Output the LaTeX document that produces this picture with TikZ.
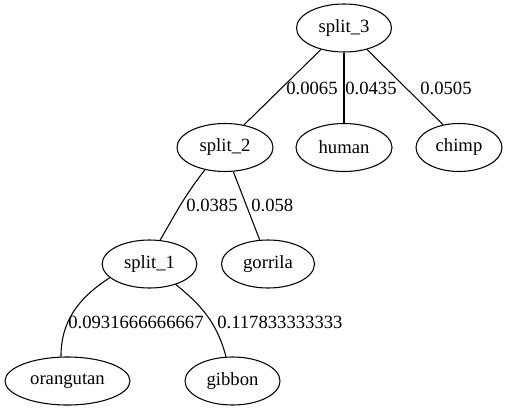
\documentclass[tikz,border=0pt]{standalone}
\usepackage{fontspec}
\setmainfont{Liberation Serif}
\usetikzlibrary{shapes.geometric}

\begin{document}
\begin{tikzpicture}[x=0.75pt,y=0.75pt,
    every node/.style={font=\fontsize{14}{16}\selectfont},
    taxon/.style={ellipse,draw,line width=0.8pt,inner sep=0pt,minimum height=36pt,minimum width=#1},
    weight/.style={anchor=west,inner sep=0pt},
    branch/.style={line width=0.8pt}]
        \useasboundingbox (0,0) rectangle (509,411);

        \node[taxon=71.25pt] (s3) at (344,383) {split\_3};
        \node[taxon=72pt] (s2) at (225,263.5) {split\_2};
        \node[taxon=72pt] (human) at (344,263.5) {human};
        \node[taxon=64.5pt] (chimp) at (459,263.5) {chimp};
        \node[taxon=71pt] (s1) at (149.5,147) {split\_1};
        \node[taxon=69.75pt] (gorrila) at (268,147) {gorrila};
        \node[taxon=93.75pt] (orangutan) at (67.5,30) {orangutan};
        \node[taxon=71.25pt] (gibbon) at (232.5,30) {gibbon};

        \node[weight] (w32) at (286,323) {0.0065};
        \node[weight] (w3h) at (345,323) {0.0435};
        \node[weight] (w3c) at (420,323) {0.0505};
        \node[weight] (w21) at (186,206) {0.0385};
        \node[weight] (w2g) at (251,206) {0.058};
        \node[weight] (w1o) at (68,89) {0.0931666666667};
        \node[weight] (w1g) at (217,89) {0.117833333333};

        \draw[branch] (s3.223) -- (s2.50);
        \draw[branch] (s3) -- (human);
        \draw[branch] (s3.-43) -- (chimp.125);
        \draw[branch] (s2.228) to[out=232,in=60] (s1.66);
        \draw[branch] (s2.-71) -- (gorrila.109);
        \draw[branch] (s1.199) to[out=213,in=90] (orangutan.105);
        \draw[branch] (s1.-38) to[out=-39,in=105] (gibbon.105);
    \end{tikzpicture}
\end{document}
